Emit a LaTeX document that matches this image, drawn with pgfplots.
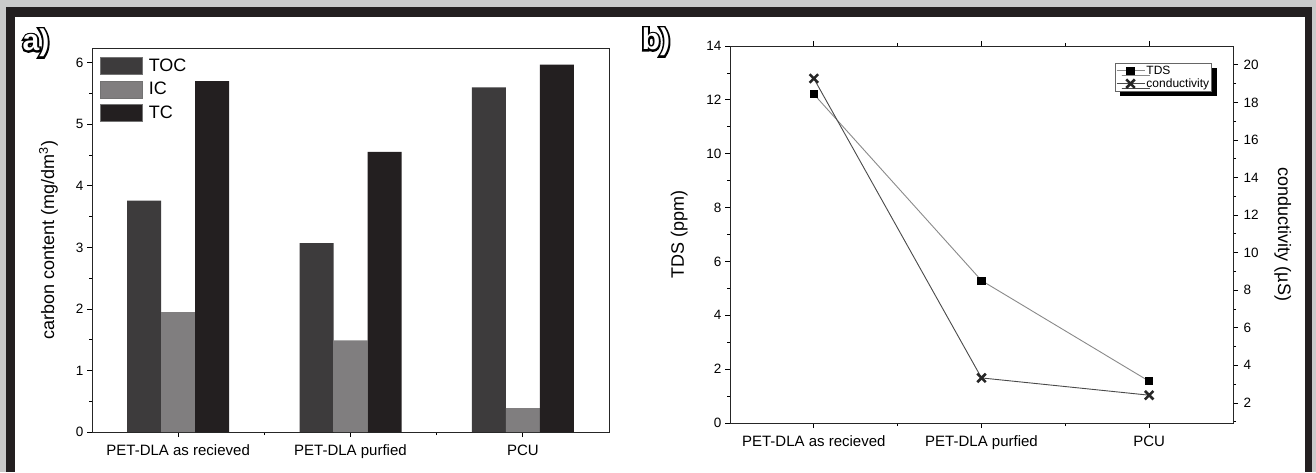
\documentclass[border=0pt]{standalone}
\usepackage{fontspec}
\setmainfont{Liberation Sans}
\newfontfamily\labfontB[FakeBold=12]{Liberation Sans Bold}
\newfontfamily\labfont{Liberation Sans Bold}
\usepackage{pgfplots}
\pgfplotsset{compat=1.18}
\usetikzlibrary{shadows}
\definecolor{bgl}{HTML}{CACACA}
\definecolor{frm}{HTML}{231F20}
\definecolor{tocc}{HTML}{3D3B3C}
\definecolor{icc}{HTML}{807E7F}
\definecolor{tcc}{HTML}{231F20}
\definecolor{tdsline}{HTML}{8A8A8A}
\definecolor{condline}{HTML}{4A4A4A}
\pgfplotsset{
  mybarlegend/.style={legend image code/.code={\draw[##1, draw=black!55, line width=0.6pt] (0pt,-8.5pt) rectangle (42pt,8.5pt);}},
  commonax/.style={
    scale only axis, anchor=south west,
    xmin=-0.5, xmax=2.5,
    tick align=outside,
    major tick length=5pt, minor tick length=3pt,
    tick style={black, line width=0.8pt},
    axis line style={line width=0.8pt, black!85},
    x tick label style={font=\fontsize{15}{17}\selectfont, yshift=-4pt},
    y tick label style={font=\fontsize{13.5}{15}\selectfont},
    /pgf/number format/assume math mode=true,
  }
}
\begin{document}
\begin{tikzpicture}
\path[use as bounding box] (0pt,0pt) rectangle (1316pt,472pt);
\fill[bgl] (0pt,0pt) rectangle (1316pt,472pt);
\fill[frm] (6pt,0pt) rectangle (1312pt,465pt);
\fill[white] (15pt,0pt) rectangle (1305pt,455pt);
% panel labels
\node[font=\labfontB\fontsize{30}{30}\selectfont, text=black] at (36pt,429pt) {a)};
\node[font=\labfont\fontsize{30}{30}\selectfont, text=white] at (36pt,429pt) {a)};
\node[font=\labfontB\fontsize{30}{30}\selectfont, text=black] at (656pt,430pt) {b)};
\node[font=\labfont\fontsize{30}{30}\selectfont, text=white] at (656pt,430pt) {b)};

% ---------- panel a ----------
\begin{axis}[commonax,
  at={(92pt,40pt)}, width=517pt, height=384pt,
  ymin=0, ymax=6.24,
  ybar=0pt, bar width=34pt,
  xtick={0,1,2}, xticklabels={PET-DLA as recieved, PET-DLA purfied, PCU},
  minor xtick={0.5,1.5},
  ytick={0,1,...,6}, minor ytick={0.5,1.5,...,5.5},
  xtick pos=left, ytick pos=left,
  ylabel={carbon content (mg/dm\textsuperscript{3})},
  ylabel style={font=\fontsize{18}{20}\selectfont, at={(axis description cs:-0.084,0.5)}, anchor=center},
  legend style={at={(axis description cs:0.0155,0.977)}, anchor=north west, draw=none, fill=none,
    inner sep=0pt, font=\fontsize{18}{20}\selectfont, row sep=6pt,
    nodes={inner sep=1pt},
    /tikz/every odd column/.append style={column sep=5pt}},
  legend cell align=left,
]
\addplot[fill=tocc, draw=none, mybarlegend] coordinates {(0,3.76) (1,3.07) (2,5.60)};
\addplot[fill=icc, draw=none, mybarlegend] coordinates {(0,1.95) (1,1.49) (2,0.39)};
\addplot[fill=tcc, draw=none, mybarlegend] coordinates {(0,5.70) (1,4.55) (2,5.97)};
\legend{TOC,IC,TC}
\end{axis}

% ---------- panel b ----------
\begin{axis}[commonax,
  at={(730pt,49pt)}, width=503pt, height=377pt,
  ymin=0, ymax=14,
  xtick={0,1,2}, xticklabels={PET-DLA as recieved, PET-DLA purfied, PCU},
  minor xtick={0.5,1.5},
  xtick pos=both, xticklabel pos=left,
  ytick={0,2,...,14}, minor ytick={1,3,...,13}, ytick pos=left,
  ylabel={TDS (ppm)},
  ylabel style={font=\fontsize{18}{20}\selectfont, at={(axis description cs:-0.101,0.5)}, anchor=center},
]
\addplot[tdsline, line width=0.9pt, mark=square*, mark size=3.6pt, mark options={fill=black, draw=black, solid}]
  coordinates {(0,12.21) (1,5.29) (2,1.55)};
\end{axis}
\begin{axis}[commonax,
  at={(730pt,49pt)}, width=503pt, height=377pt,
  ymin=0.93, ymax=21.0,
  axis x line=none, axis y line*=right, axis line style={-},
  ytick={2,4,...,20}, minor ytick={1,3,...,19},
  y tick label style={xshift=2pt},
  ylabel={conductivity (µS)},
  ylabel style={font=\fontsize{18}{20}\selectfont, rotate=180, at={(axis description cs:1.099,0.5)}, anchor=center},
  legend style={at={(axis description cs:0.958,0.955)}, anchor=north east, draw=black!60, fill=white,
    font=\fontsize{12}{13}\selectfont, inner sep=1pt, row sep=0pt,
    nodes={inner sep=1.5pt},
    drop shadow={opacity=1, fill=black, shadow xshift=5pt, shadow yshift=-5pt}},
  legend cell align=left,
  legend image code/.code={\draw[mark repeat=2, mark phase=2, #1] plot coordinates {(0pt,0pt) (14pt,0pt) (28pt,0pt)};},
]
\addlegendimage{tdsline, line width=0.9pt, mark=square*, mark size=3.6pt, mark options={fill=black, draw=black, solid}}
\addplot[condline, line width=0.9pt, mark=x, mark size=6pt, mark options={black!85, line width=2.6pt, solid}]
  coordinates {(0,19.27) (1,3.33) (2,2.41)};
\legend{TDS, conductivity}
\end{axis}
\end{tikzpicture}
\end{document}
